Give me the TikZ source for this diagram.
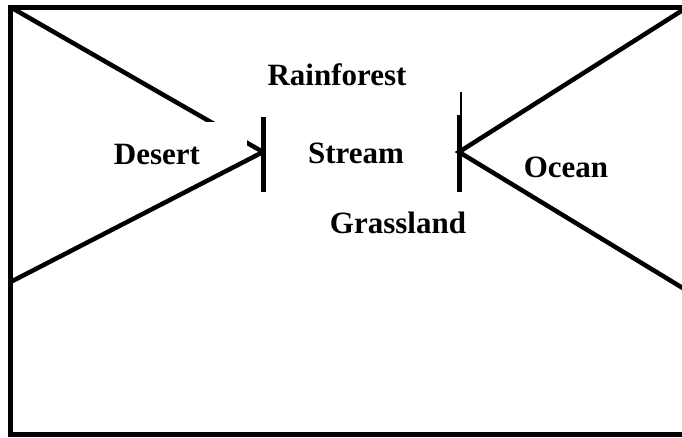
\documentclass[tikz,border=0pt]{standalone}
\usepackage{fontspec}
\setmainfont{Liberation Serif}
\usetikzlibrary{positioning}
\tikzset{
  biome/.style={font=\bfseries\fontsize{31}{36}\selectfont, inner sep=0pt, anchor=base},
  link/.style={line width=4.5pt},
  gatebar/.style={line width=5pt},
  frame/.style={line width=5pt}
}
\begin{document}
\begin{tikzpicture}[x=1pt,y=-1pt]
    \useasboundingbox (0,0) rectangle (682,437);
    \draw[frame] (692,7) -- (10.5,7) -- (10.5,434) -- (692,434);
    % corners and gates
    \coordinate (tl) at (12,8);
    \coordinate (bl) at (10.5,282);
    \coordinate (tr) at (686,8);
    \coordinate (br) at (686,290);
    \coordinate (lgate) at (263,152);
    \coordinate (rgate) at (459,152);
    \coordinate (lgate-t) at (263,117);
    \coordinate (lgate-b) at (263,192);
    \coordinate (rgate-t) at (459,115);
    \coordinate (rgate-b) at (459,192);
    \coordinate (rgate-tip) at (461,92);
    \draw[gatebar] (lgate-t) -- (lgate-b);
    \draw[gatebar] (rgate-t) -- (rgate-b);
    \draw[line width=1.5pt] (rgate-tip) -- (461,116);
    \draw[link] (tl) -- (lgate);
    \node[biome, fill=white, minimum width=180pt, minimum height=65pt, anchor=center] (desert) at (157,154.5) {Desert};
    \draw[link] (bl) -- (lgate);
    \draw[link] (tr) -- (rgate) -- (br);
    % labels
    \node[biome] (rainforest) at (337,85) {Rainforest};
    \node[biome] (stream) at (356,163) {Stream};
    \node[biome] (grassland) at (398,233) {Grassland};
    \node[biome] (ocean) at (566,177) {Ocean};
  \end{tikzpicture}
\end{document}
